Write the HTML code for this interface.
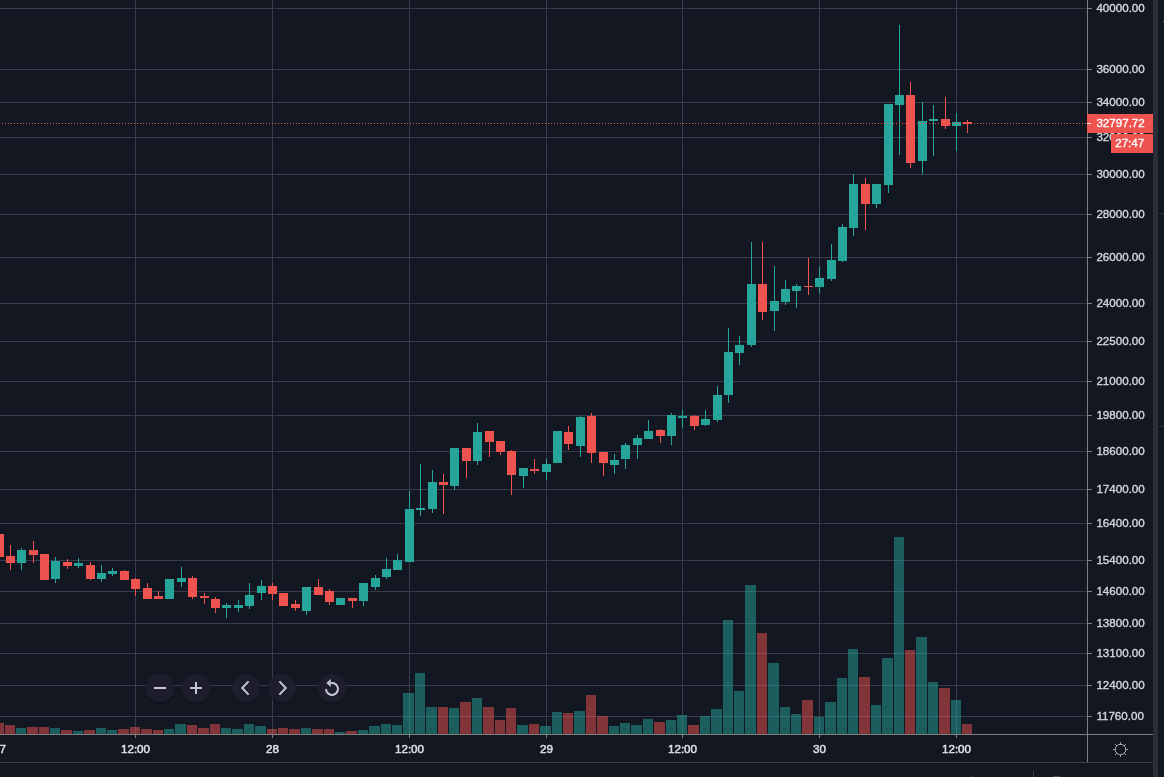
<!DOCTYPE html>
<html><head><meta charset="utf-8"><title>Chart</title>
<style>
html,body{margin:0;padding:0;background:#131722;overflow:hidden}
body{width:1164px;height:777px}
svg{display:block}
.t{font-family:"Liberation Sans",sans-serif;font-size:11.6px;fill:#d6d8de;stroke:#d6d8de;stroke-width:0.35px}
.w{fill:#ffffff;stroke:#ffffff}
.b{fill:#dcdee3;stroke:#dcdee3;stroke-width:0.55px}
</style></head><body>
<svg width="1164" height="777" viewBox="0 0 1164 777">
<defs><filter id="sh" x="-30%" y="-30%" width="160%" height="160%"><feDropShadow dx="0" dy="1" stdDeviation="1.2" flood-color="#000" flood-opacity="0.45"/></filter></defs>
<rect width="1164" height="777" fill="#131722"/>
<g shape-rendering="crispEdges">
<rect x="0" y="8" width="1087" height="1" fill="#363c4e"/>
<rect x="0" y="69" width="1087" height="1" fill="#363c4e"/>
<rect x="0" y="102" width="1087" height="1" fill="#363c4e"/>
<rect x="0" y="137" width="1087" height="1" fill="#363c4e"/>
<rect x="0" y="174" width="1087" height="1" fill="#363c4e"/>
<rect x="0" y="214" width="1087" height="1" fill="#363c4e"/>
<rect x="0" y="257" width="1087" height="1" fill="#363c4e"/>
<rect x="0" y="303" width="1087" height="1" fill="#363c4e"/>
<rect x="0" y="341" width="1087" height="1" fill="#363c4e"/>
<rect x="0" y="381" width="1087" height="1" fill="#363c4e"/>
<rect x="0" y="415" width="1087" height="1" fill="#363c4e"/>
<rect x="0" y="451" width="1087" height="1" fill="#363c4e"/>
<rect x="0" y="489" width="1087" height="1" fill="#363c4e"/>
<rect x="0" y="523" width="1087" height="1" fill="#363c4e"/>
<rect x="0" y="560" width="1087" height="1" fill="#363c4e"/>
<rect x="0" y="591" width="1087" height="1" fill="#363c4e"/>
<rect x="0" y="623" width="1087" height="1" fill="#363c4e"/>
<rect x="0" y="653" width="1087" height="1" fill="#363c4e"/>
<rect x="0" y="685" width="1087" height="1" fill="#363c4e"/>
<rect x="0" y="716" width="1087" height="1" fill="#363c4e"/>
<rect x="135" y="0" width="1" height="734" fill="#363c4e"/>
<rect x="272" y="0" width="1" height="734" fill="#363c4e"/>
<rect x="409" y="0" width="1" height="734" fill="#363c4e"/>
<rect x="546" y="0" width="1" height="734" fill="#363c4e"/>
<rect x="682" y="0" width="1" height="734" fill="#363c4e"/>
<rect x="819" y="0" width="1" height="734" fill="#363c4e"/>
<rect x="956" y="0" width="1" height="734" fill="#363c4e"/>
<rect x="0" y="723" width="4" height="11" fill="#ef5350" fill-opacity="0.5"/>
<rect x="5" y="725" width="10" height="9" fill="#ef5350" fill-opacity="0.5"/>
<rect x="16" y="728" width="10" height="6" fill="#26a69a" fill-opacity="0.5"/>
<rect x="27" y="727" width="11" height="7" fill="#ef5350" fill-opacity="0.5"/>
<rect x="39" y="727" width="10" height="7" fill="#ef5350" fill-opacity="0.5"/>
<rect x="50" y="728" width="10" height="6" fill="#26a69a" fill-opacity="0.5"/>
<rect x="61" y="730" width="11" height="4" fill="#ef5350" fill-opacity="0.5"/>
<rect x="73" y="731" width="10" height="3" fill="#26a69a" fill-opacity="0.5"/>
<rect x="84" y="730" width="11" height="4" fill="#ef5350" fill-opacity="0.5"/>
<rect x="96" y="728" width="10" height="6" fill="#26a69a" fill-opacity="0.5"/>
<rect x="107" y="730" width="10" height="4" fill="#26a69a" fill-opacity="0.5"/>
<rect x="118" y="729" width="11" height="5" fill="#ef5350" fill-opacity="0.5"/>
<rect x="130" y="727" width="10" height="7" fill="#ef5350" fill-opacity="0.5"/>
<rect x="141" y="729" width="11" height="5" fill="#ef5350" fill-opacity="0.5"/>
<rect x="153" y="730" width="10" height="4" fill="#ef5350" fill-opacity="0.5"/>
<rect x="164" y="729" width="10" height="5" fill="#26a69a" fill-opacity="0.5"/>
<rect x="175" y="724" width="11" height="10" fill="#26a69a" fill-opacity="0.5"/>
<rect x="187" y="725" width="10" height="9" fill="#ef5350" fill-opacity="0.5"/>
<rect x="198" y="728" width="11" height="6" fill="#ef5350" fill-opacity="0.5"/>
<rect x="210" y="724" width="10" height="10" fill="#ef5350" fill-opacity="0.5"/>
<rect x="221" y="728" width="10" height="6" fill="#26a69a" fill-opacity="0.5"/>
<rect x="232" y="729" width="11" height="5" fill="#26a69a" fill-opacity="0.5"/>
<rect x="244" y="724" width="10" height="10" fill="#26a69a" fill-opacity="0.5"/>
<rect x="255" y="726" width="11" height="8" fill="#26a69a" fill-opacity="0.5"/>
<rect x="267" y="729" width="10" height="5" fill="#ef5350" fill-opacity="0.5"/>
<rect x="278" y="728" width="10" height="6" fill="#ef5350" fill-opacity="0.5"/>
<rect x="289" y="729" width="11" height="5" fill="#ef5350" fill-opacity="0.5"/>
<rect x="301" y="728" width="10" height="6" fill="#26a69a" fill-opacity="0.5"/>
<rect x="312" y="729" width="11" height="5" fill="#ef5350" fill-opacity="0.5"/>
<rect x="324" y="729" width="10" height="5" fill="#ef5350" fill-opacity="0.5"/>
<rect x="335" y="732" width="10" height="2" fill="#26a69a" fill-opacity="0.5"/>
<rect x="346" y="731" width="11" height="3" fill="#ef5350" fill-opacity="0.5"/>
<rect x="358" y="730" width="10" height="4" fill="#26a69a" fill-opacity="0.5"/>
<rect x="369" y="726" width="11" height="8" fill="#26a69a" fill-opacity="0.5"/>
<rect x="381" y="724" width="10" height="10" fill="#26a69a" fill-opacity="0.5"/>
<rect x="392" y="725" width="10" height="9" fill="#26a69a" fill-opacity="0.5"/>
<rect x="403" y="693" width="11" height="41" fill="#26a69a" fill-opacity="0.5"/>
<rect x="415" y="673" width="10" height="61" fill="#26a69a" fill-opacity="0.5"/>
<rect x="426" y="707" width="11" height="27" fill="#26a69a" fill-opacity="0.5"/>
<rect x="438" y="707" width="10" height="27" fill="#ef5350" fill-opacity="0.5"/>
<rect x="449" y="708" width="10" height="26" fill="#26a69a" fill-opacity="0.5"/>
<rect x="460" y="702" width="11" height="32" fill="#ef5350" fill-opacity="0.5"/>
<rect x="472" y="698" width="10" height="36" fill="#26a69a" fill-opacity="0.5"/>
<rect x="483" y="707" width="11" height="27" fill="#ef5350" fill-opacity="0.5"/>
<rect x="495" y="720" width="10" height="14" fill="#ef5350" fill-opacity="0.5"/>
<rect x="506" y="708" width="10" height="26" fill="#ef5350" fill-opacity="0.5"/>
<rect x="517" y="725" width="11" height="9" fill="#26a69a" fill-opacity="0.5"/>
<rect x="529" y="724" width="10" height="10" fill="#ef5350" fill-opacity="0.5"/>
<rect x="540" y="726" width="11" height="8" fill="#26a69a" fill-opacity="0.5"/>
<rect x="552" y="712" width="10" height="22" fill="#26a69a" fill-opacity="0.5"/>
<rect x="563" y="713" width="10" height="21" fill="#ef5350" fill-opacity="0.5"/>
<rect x="574" y="711" width="11" height="23" fill="#26a69a" fill-opacity="0.5"/>
<rect x="586" y="695" width="10" height="39" fill="#ef5350" fill-opacity="0.5"/>
<rect x="597" y="716" width="11" height="18" fill="#ef5350" fill-opacity="0.5"/>
<rect x="609" y="726" width="10" height="8" fill="#26a69a" fill-opacity="0.5"/>
<rect x="620" y="723" width="10" height="11" fill="#26a69a" fill-opacity="0.5"/>
<rect x="631" y="725" width="11" height="9" fill="#26a69a" fill-opacity="0.5"/>
<rect x="643" y="719" width="10" height="15" fill="#26a69a" fill-opacity="0.5"/>
<rect x="654" y="722" width="11" height="12" fill="#ef5350" fill-opacity="0.5"/>
<rect x="666" y="720" width="10" height="14" fill="#26a69a" fill-opacity="0.5"/>
<rect x="677" y="715" width="10" height="19" fill="#26a69a" fill-opacity="0.5"/>
<rect x="688" y="725" width="11" height="9" fill="#ef5350" fill-opacity="0.5"/>
<rect x="700" y="716" width="10" height="18" fill="#26a69a" fill-opacity="0.5"/>
<rect x="711" y="709" width="11" height="25" fill="#26a69a" fill-opacity="0.5"/>
<rect x="723" y="620" width="10" height="114" fill="#26a69a" fill-opacity="0.5"/>
<rect x="734" y="691" width="10" height="43" fill="#26a69a" fill-opacity="0.5"/>
<rect x="745" y="585" width="11" height="149" fill="#26a69a" fill-opacity="0.5"/>
<rect x="757" y="633" width="10" height="101" fill="#ef5350" fill-opacity="0.5"/>
<rect x="768" y="663" width="11" height="71" fill="#26a69a" fill-opacity="0.5"/>
<rect x="780" y="707" width="10" height="27" fill="#26a69a" fill-opacity="0.5"/>
<rect x="791" y="714" width="10" height="20" fill="#26a69a" fill-opacity="0.5"/>
<rect x="802" y="700" width="11" height="34" fill="#ef5350" fill-opacity="0.5"/>
<rect x="814" y="717" width="10" height="17" fill="#26a69a" fill-opacity="0.5"/>
<rect x="825" y="702" width="11" height="32" fill="#26a69a" fill-opacity="0.5"/>
<rect x="837" y="678" width="10" height="56" fill="#26a69a" fill-opacity="0.5"/>
<rect x="848" y="649" width="10" height="85" fill="#26a69a" fill-opacity="0.5"/>
<rect x="859" y="677" width="11" height="57" fill="#ef5350" fill-opacity="0.5"/>
<rect x="871" y="705" width="10" height="29" fill="#26a69a" fill-opacity="0.5"/>
<rect x="882" y="658" width="11" height="76" fill="#26a69a" fill-opacity="0.5"/>
<rect x="894" y="537" width="10" height="197" fill="#26a69a" fill-opacity="0.5"/>
<rect x="905" y="650" width="10" height="84" fill="#ef5350" fill-opacity="0.5"/>
<rect x="916" y="637" width="11" height="97" fill="#26a69a" fill-opacity="0.5"/>
<rect x="928" y="682" width="10" height="52" fill="#26a69a" fill-opacity="0.5"/>
<rect x="939" y="688" width="11" height="46" fill="#ef5350" fill-opacity="0.5"/>
<rect x="951" y="700" width="10" height="34" fill="#26a69a" fill-opacity="0.5"/>
<rect x="962" y="724" width="10" height="10" fill="#ef5350" fill-opacity="0.5"/>
<rect x="0" y="534" width="4" height="23" fill="#ef5350"/>
<rect x="10" y="545" width="1" height="25" fill="#ef5350"/>
<rect x="6" y="556" width="9" height="7" fill="#ef5350"/>
<rect x="21" y="548" width="1" height="22" fill="#26a69a"/>
<rect x="17" y="550" width="9" height="13" fill="#26a69a"/>
<rect x="33" y="541" width="1" height="22" fill="#ef5350"/>
<rect x="29" y="550" width="9" height="5" fill="#ef5350"/>
<rect x="40" y="554" width="9" height="26" fill="#ef5350"/>
<rect x="55" y="557" width="1" height="26" fill="#26a69a"/>
<rect x="51" y="561" width="9" height="18" fill="#26a69a"/>
<rect x="67" y="559" width="1" height="10" fill="#ef5350"/>
<rect x="63" y="562" width="9" height="4" fill="#ef5350"/>
<rect x="78" y="558" width="1" height="10" fill="#26a69a"/>
<rect x="74" y="563" width="9" height="3" fill="#26a69a"/>
<rect x="90" y="562" width="1" height="18" fill="#ef5350"/>
<rect x="86" y="565" width="9" height="14" fill="#ef5350"/>
<rect x="101" y="565" width="1" height="17" fill="#26a69a"/>
<rect x="97" y="573" width="9" height="6" fill="#26a69a"/>
<rect x="112" y="568" width="1" height="8" fill="#26a69a"/>
<rect x="108" y="571" width="9" height="3" fill="#26a69a"/>
<rect x="124" y="570" width="1" height="10" fill="#ef5350"/>
<rect x="120" y="571" width="9" height="9" fill="#ef5350"/>
<rect x="135" y="578" width="1" height="18" fill="#ef5350"/>
<rect x="131" y="579" width="9" height="10" fill="#ef5350"/>
<rect x="147" y="583" width="1" height="16" fill="#ef5350"/>
<rect x="143" y="588" width="9" height="11" fill="#ef5350"/>
<rect x="158" y="591" width="1" height="8" fill="#ef5350"/>
<rect x="154" y="596" width="9" height="3" fill="#ef5350"/>
<rect x="165" y="579" width="9" height="20" fill="#26a69a"/>
<rect x="181" y="567" width="1" height="20" fill="#26a69a"/>
<rect x="177" y="578" width="9" height="4" fill="#26a69a"/>
<rect x="192" y="576" width="1" height="23" fill="#ef5350"/>
<rect x="188" y="578" width="9" height="19" fill="#ef5350"/>
<rect x="204" y="593" width="1" height="11" fill="#ef5350"/>
<rect x="200" y="596" width="9" height="2" fill="#ef5350"/>
<rect x="215" y="597" width="1" height="16" fill="#ef5350"/>
<rect x="211" y="599" width="9" height="9" fill="#ef5350"/>
<rect x="226" y="603" width="1" height="15" fill="#26a69a"/>
<rect x="222" y="605" width="9" height="3" fill="#26a69a"/>
<rect x="238" y="600" width="1" height="12" fill="#26a69a"/>
<rect x="234" y="605" width="9" height="3" fill="#26a69a"/>
<rect x="249" y="583" width="1" height="26" fill="#26a69a"/>
<rect x="245" y="595" width="9" height="11" fill="#26a69a"/>
<rect x="261" y="580" width="1" height="20" fill="#26a69a"/>
<rect x="257" y="586" width="9" height="7" fill="#26a69a"/>
<rect x="272" y="583" width="1" height="17" fill="#ef5350"/>
<rect x="268" y="586" width="9" height="8" fill="#ef5350"/>
<rect x="279" y="593" width="9" height="13" fill="#ef5350"/>
<rect x="295" y="600" width="1" height="11" fill="#ef5350"/>
<rect x="291" y="604" width="9" height="4" fill="#ef5350"/>
<rect x="306" y="587" width="1" height="28" fill="#26a69a"/>
<rect x="302" y="587" width="9" height="24" fill="#26a69a"/>
<rect x="318" y="579" width="1" height="16" fill="#ef5350"/>
<rect x="314" y="587" width="9" height="8" fill="#ef5350"/>
<rect x="329" y="589" width="1" height="16" fill="#ef5350"/>
<rect x="325" y="591" width="9" height="11" fill="#ef5350"/>
<rect x="336" y="598" width="9" height="7" fill="#26a69a"/>
<rect x="352" y="598" width="1" height="10" fill="#ef5350"/>
<rect x="348" y="598" width="9" height="3" fill="#ef5350"/>
<rect x="363" y="583" width="1" height="23" fill="#26a69a"/>
<rect x="359" y="583" width="9" height="18" fill="#26a69a"/>
<rect x="375" y="575" width="1" height="15" fill="#26a69a"/>
<rect x="371" y="578" width="9" height="9" fill="#26a69a"/>
<rect x="386" y="558" width="1" height="21" fill="#26a69a"/>
<rect x="382" y="569" width="9" height="8" fill="#26a69a"/>
<rect x="397" y="554" width="1" height="16" fill="#26a69a"/>
<rect x="393" y="560" width="9" height="10" fill="#26a69a"/>
<rect x="409" y="491" width="1" height="71" fill="#26a69a"/>
<rect x="405" y="509" width="9" height="53" fill="#26a69a"/>
<rect x="420" y="464" width="1" height="52" fill="#26a69a"/>
<rect x="416" y="508" width="9" height="2" fill="#26a69a"/>
<rect x="432" y="470" width="1" height="43" fill="#26a69a"/>
<rect x="428" y="482" width="9" height="27" fill="#26a69a"/>
<rect x="443" y="474" width="1" height="40" fill="#ef5350"/>
<rect x="439" y="482" width="9" height="3" fill="#ef5350"/>
<rect x="454" y="448" width="1" height="42" fill="#26a69a"/>
<rect x="450" y="448" width="9" height="38" fill="#26a69a"/>
<rect x="466" y="448" width="1" height="30" fill="#ef5350"/>
<rect x="462" y="448" width="9" height="13" fill="#ef5350"/>
<rect x="477" y="423" width="1" height="42" fill="#26a69a"/>
<rect x="473" y="432" width="9" height="29" fill="#26a69a"/>
<rect x="489" y="431" width="1" height="26" fill="#ef5350"/>
<rect x="485" y="431" width="9" height="11" fill="#ef5350"/>
<rect x="500" y="441" width="1" height="14" fill="#ef5350"/>
<rect x="496" y="441" width="9" height="11" fill="#ef5350"/>
<rect x="511" y="450" width="1" height="45" fill="#ef5350"/>
<rect x="507" y="451" width="9" height="24" fill="#ef5350"/>
<rect x="523" y="468" width="1" height="20" fill="#26a69a"/>
<rect x="519" y="468" width="9" height="8" fill="#26a69a"/>
<rect x="534" y="459" width="1" height="15" fill="#ef5350"/>
<rect x="530" y="469" width="9" height="2" fill="#ef5350"/>
<rect x="546" y="459" width="1" height="21" fill="#26a69a"/>
<rect x="542" y="464" width="9" height="8" fill="#26a69a"/>
<rect x="553" y="431" width="9" height="32" fill="#26a69a"/>
<rect x="568" y="426" width="1" height="24" fill="#ef5350"/>
<rect x="564" y="432" width="9" height="12" fill="#ef5350"/>
<rect x="580" y="416" width="1" height="41" fill="#26a69a"/>
<rect x="576" y="417" width="9" height="29" fill="#26a69a"/>
<rect x="591" y="413" width="1" height="50" fill="#ef5350"/>
<rect x="587" y="416" width="9" height="37" fill="#ef5350"/>
<rect x="603" y="452" width="1" height="24" fill="#ef5350"/>
<rect x="599" y="452" width="9" height="11" fill="#ef5350"/>
<rect x="614" y="454" width="1" height="20" fill="#26a69a"/>
<rect x="610" y="460" width="9" height="5" fill="#26a69a"/>
<rect x="625" y="443" width="1" height="26" fill="#26a69a"/>
<rect x="621" y="445" width="9" height="14" fill="#26a69a"/>
<rect x="637" y="435" width="1" height="24" fill="#26a69a"/>
<rect x="633" y="438" width="9" height="7" fill="#26a69a"/>
<rect x="648" y="420" width="1" height="19" fill="#26a69a"/>
<rect x="644" y="431" width="9" height="8" fill="#26a69a"/>
<rect x="660" y="429" width="1" height="14" fill="#ef5350"/>
<rect x="656" y="430" width="9" height="6" fill="#ef5350"/>
<rect x="671" y="413" width="1" height="32" fill="#26a69a"/>
<rect x="667" y="415" width="9" height="21" fill="#26a69a"/>
<rect x="682" y="410" width="1" height="18" fill="#26a69a"/>
<rect x="678" y="416" width="9" height="2" fill="#26a69a"/>
<rect x="694" y="415" width="1" height="15" fill="#ef5350"/>
<rect x="690" y="416" width="9" height="10" fill="#ef5350"/>
<rect x="705" y="410" width="1" height="16" fill="#26a69a"/>
<rect x="701" y="419" width="9" height="6" fill="#26a69a"/>
<rect x="717" y="386" width="1" height="36" fill="#26a69a"/>
<rect x="713" y="395" width="9" height="25" fill="#26a69a"/>
<rect x="728" y="328" width="1" height="75" fill="#26a69a"/>
<rect x="724" y="352" width="9" height="43" fill="#26a69a"/>
<rect x="739" y="336" width="1" height="29" fill="#26a69a"/>
<rect x="735" y="345" width="9" height="8" fill="#26a69a"/>
<rect x="751" y="242" width="1" height="105" fill="#26a69a"/>
<rect x="747" y="284" width="9" height="61" fill="#26a69a"/>
<rect x="762" y="242" width="1" height="78" fill="#ef5350"/>
<rect x="758" y="284" width="9" height="28" fill="#ef5350"/>
<rect x="774" y="266" width="1" height="65" fill="#26a69a"/>
<rect x="770" y="301" width="9" height="10" fill="#26a69a"/>
<rect x="785" y="280" width="1" height="25" fill="#26a69a"/>
<rect x="781" y="289" width="9" height="13" fill="#26a69a"/>
<rect x="796" y="284" width="1" height="24" fill="#26a69a"/>
<rect x="792" y="286" width="9" height="5" fill="#26a69a"/>
<rect x="808" y="258" width="1" height="37" fill="#ef5350"/>
<rect x="804" y="286" width="9" height="1" fill="#ef5350"/>
<rect x="819" y="267" width="1" height="26" fill="#26a69a"/>
<rect x="815" y="278" width="9" height="9" fill="#26a69a"/>
<rect x="831" y="244" width="1" height="37" fill="#26a69a"/>
<rect x="827" y="260" width="9" height="19" fill="#26a69a"/>
<rect x="842" y="224" width="1" height="38" fill="#26a69a"/>
<rect x="838" y="227" width="9" height="34" fill="#26a69a"/>
<rect x="853" y="174" width="1" height="62" fill="#26a69a"/>
<rect x="849" y="184" width="9" height="44" fill="#26a69a"/>
<rect x="865" y="178" width="1" height="52" fill="#ef5350"/>
<rect x="861" y="184" width="9" height="20" fill="#ef5350"/>
<rect x="876" y="184" width="1" height="24" fill="#26a69a"/>
<rect x="872" y="184" width="9" height="20" fill="#26a69a"/>
<rect x="888" y="104" width="1" height="89" fill="#26a69a"/>
<rect x="884" y="104" width="9" height="81" fill="#26a69a"/>
<rect x="899" y="25" width="1" height="130" fill="#26a69a"/>
<rect x="895" y="95" width="9" height="10" fill="#26a69a"/>
<rect x="910" y="82" width="1" height="86" fill="#ef5350"/>
<rect x="906" y="95" width="9" height="68" fill="#ef5350"/>
<rect x="922" y="102" width="1" height="72" fill="#26a69a"/>
<rect x="918" y="121" width="9" height="40" fill="#26a69a"/>
<rect x="933" y="105" width="1" height="51" fill="#26a69a"/>
<rect x="929" y="119" width="9" height="2" fill="#26a69a"/>
<rect x="945" y="97" width="1" height="32" fill="#ef5350"/>
<rect x="941" y="119" width="9" height="7" fill="#ef5350"/>
<rect x="956" y="113" width="1" height="38" fill="#26a69a"/>
<rect x="952" y="122" width="9" height="4" fill="#26a69a"/>
<rect x="967" y="120" width="1" height="13" fill="#ef5350"/>
<rect x="963" y="122" width="9" height="2" fill="#ef5350"/>
<line x1="2" y1="123.5" x2="1087" y2="123.5" stroke="#ef5350" stroke-width="1" stroke-dasharray="1 2" stroke-dashoffset="0"/>
<rect x="1087" y="0" width="1" height="763" fill="#7f7f7f"/>
<rect x="1088" y="8" width="4" height="1" fill="#7f7f7f"/>
<rect x="1088" y="69" width="4" height="1" fill="#7f7f7f"/>
<rect x="1088" y="102" width="4" height="1" fill="#7f7f7f"/>
<rect x="1088" y="137" width="4" height="1" fill="#7f7f7f"/>
<rect x="1088" y="174" width="4" height="1" fill="#7f7f7f"/>
<rect x="1088" y="214" width="4" height="1" fill="#7f7f7f"/>
<rect x="1088" y="257" width="4" height="1" fill="#7f7f7f"/>
<rect x="1088" y="303" width="4" height="1" fill="#7f7f7f"/>
<rect x="1088" y="341" width="4" height="1" fill="#7f7f7f"/>
<rect x="1088" y="381" width="4" height="1" fill="#7f7f7f"/>
<rect x="1088" y="415" width="4" height="1" fill="#7f7f7f"/>
<rect x="1088" y="451" width="4" height="1" fill="#7f7f7f"/>
<rect x="1088" y="489" width="4" height="1" fill="#7f7f7f"/>
<rect x="1088" y="523" width="4" height="1" fill="#7f7f7f"/>
<rect x="1088" y="560" width="4" height="1" fill="#7f7f7f"/>
<rect x="1088" y="591" width="4" height="1" fill="#7f7f7f"/>
<rect x="1088" y="623" width="4" height="1" fill="#7f7f7f"/>
<rect x="1088" y="653" width="4" height="1" fill="#7f7f7f"/>
<rect x="1088" y="685" width="4" height="1" fill="#7f7f7f"/>
<rect x="1088" y="716" width="4" height="1" fill="#7f7f7f"/>
<rect x="0" y="734" width="1153" height="1" fill="#7f7f7f"/>
<rect x="135" y="735" width="1" height="3" fill="#7f7f7f"/>
<rect x="272" y="735" width="1" height="3" fill="#7f7f7f"/>
<rect x="409" y="735" width="1" height="3" fill="#7f7f7f"/>
<rect x="546" y="735" width="1" height="3" fill="#7f7f7f"/>
<rect x="682" y="735" width="1" height="3" fill="#7f7f7f"/>
<rect x="819" y="735" width="1" height="3" fill="#7f7f7f"/>
<rect x="956" y="735" width="1" height="3" fill="#7f7f7f"/>
<rect x="0" y="762" width="1153" height="1" fill="#3c404c"/>
<rect x="1153" y="0" width="5" height="777" fill="#2a2e39"/>
<rect x="1158" y="213" width="6" height="1" fill="#2a2e39"/>
<rect x="1158" y="426" width="6" height="1" fill="#2a2e39"/>
<rect x="1163" y="21" width="1" height="1" fill="#8c8f99"/>
<rect x="1033" y="771" width="1" height="6" fill="#3c404c"/>
<rect x="1053" y="776" width="7" height="1" fill="#4a4e5a"/>
<rect x="971" y="776" width="1" height="1" fill="#4a4e5a"/>
<g transform="translate(1120.5,749.5)" stroke="#9a9da6" stroke-width="1" fill="none"><circle r="5.2"/><line x1="0.00" y1="5.20" x2="0.00" y2="7.80"/><line x1="-3.68" y1="3.68" x2="-5.52" y2="5.52"/><line x1="-5.20" y1="0.00" x2="-7.80" y2="0.00"/><line x1="-3.68" y1="-3.68" x2="-5.52" y2="-5.52"/><line x1="-0.00" y1="-5.20" x2="-0.00" y2="-7.80"/><line x1="3.68" y1="-3.68" x2="5.52" y2="-5.52"/><line x1="5.20" y1="-0.00" x2="7.80" y2="-0.00"/><line x1="3.68" y1="3.68" x2="5.52" y2="5.52"/></g>
</g>
<g>
<circle cx="160" cy="688" r="14" fill="#1c202c" fill-opacity="0.93" filter="url(#sh)"/>
<circle cx="196" cy="688" r="14" fill="#1c202c" fill-opacity="0.93" filter="url(#sh)"/>
<circle cx="246" cy="688" r="14" fill="#1c202c" fill-opacity="0.93" filter="url(#sh)"/>
<circle cx="282" cy="688" r="14" fill="#1c202c" fill-opacity="0.93" filter="url(#sh)"/>
<circle cx="332" cy="688" r="14" fill="#1c202c" fill-opacity="0.93" filter="url(#sh)"/>
<rect x="154" y="687" width="12" height="2" fill="#c5c8d1"/>
<rect x="190" y="687" width="12" height="2" fill="#c5c8d1"/><rect x="195" y="682" width="2" height="12" fill="#c5c8d1"/>
<path d="M248.6 681.4 L242.2 688 L248.6 694.6" stroke="#c5c8d1" stroke-width="2" fill="none"/>
<path d="M279.4 681.4 L285.8 688 L279.4 694.6" stroke="#c5c8d1" stroke-width="2" fill="none"/>
<path d="M331 683 A6 6 0 1 1 326 689" stroke="#c5c8d1" stroke-width="2" fill="none"/><path d="M326.3 683 L330.8 679 L330.8 687 Z" fill="#c5c8d1"/>
</g>
<g>
<text x="1096.4" y="12.2" class="t">40000.00</text>
<text x="1096.4" y="73.2" class="t">36000.00</text>
<text x="1096.4" y="106.2" class="t">34000.00</text>
<text x="1096.4" y="141.2" class="t">32000.00</text>
<text x="1096.4" y="178.2" class="t">30000.00</text>
<text x="1096.4" y="218.2" class="t">28000.00</text>
<text x="1096.4" y="261.2" class="t">26000.00</text>
<text x="1096.4" y="307.2" class="t">24000.00</text>
<text x="1096.4" y="345.2" class="t">22500.00</text>
<text x="1096.4" y="385.2" class="t">21000.00</text>
<text x="1096.4" y="419.2" class="t">19800.00</text>
<text x="1096.4" y="455.2" class="t">18600.00</text>
<text x="1096.4" y="493.2" class="t">17400.00</text>
<text x="1096.4" y="527.2" class="t">16400.00</text>
<text x="1096.4" y="564.2" class="t">15400.00</text>
<text x="1096.4" y="595.2" class="t">14600.00</text>
<text x="1096.4" y="627.2" class="t">13800.00</text>
<text x="1096.4" y="657.2" class="t">13100.00</text>
<text x="1096.4" y="689.2" class="t">12400.00</text>
<text x="1096.4" y="720.2" class="t">11760.00</text>
<text x="135.5" y="753.3" text-anchor="middle" class="t b">12:00</text>
<text x="272.5" y="753.3" text-anchor="middle" class="t b">28</text>
<text x="409.5" y="753.3" text-anchor="middle" class="t b">12:00</text>
<text x="546.5" y="753.3" text-anchor="middle" class="t b">29</text>
<text x="682.5" y="753.3" text-anchor="middle" class="t b">12:00</text>
<text x="819.5" y="753.3" text-anchor="middle" class="t b">30</text>
<text x="956.5" y="753.3" text-anchor="middle" class="t b">12:00</text>
<text x="6" y="753.3" text-anchor="end" class="t b">27</text>
</g>
<g shape-rendering="crispEdges">
<rect x="1087" y="114" width="66" height="19" fill="#ef5350"/>
<rect x="1087" y="123" width="4" height="1" fill="#ffffff"/>
<rect x="1111" y="134" width="42" height="19" fill="#ef5350"/>
</g>
<g>
<text x="1096.4" y="127.2" class="t w">32797.72</text>
<text x="1115.2" y="147.2" class="t w">27:47</text>
</g>
</svg>
</body></html>
